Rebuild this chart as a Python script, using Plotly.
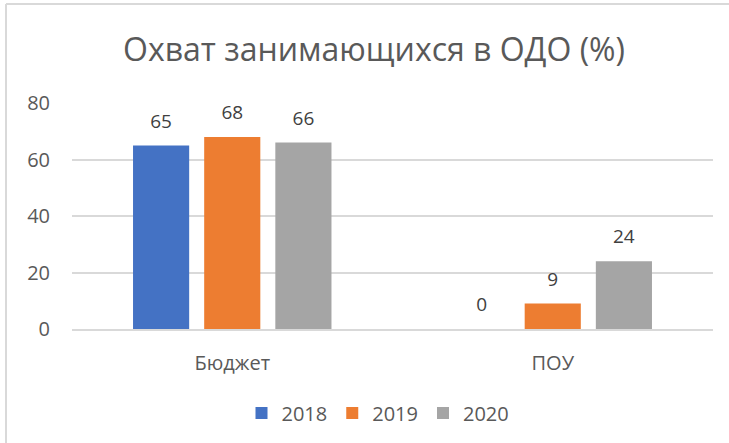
import plotly.graph_objects as go

categories = ["Бюджет", "ПОУ"]
years = ["2018", "2019", "2020"]
values_2018 = [65, 0]
values_2019 = [68, 9]
values_2020 = [66, 24]
colors = ["#4472C4", "#ED7D31", "#A5A5A5"]
y_ticks = [0, 20, 40, 60, 80]

W, H = 729, 443
L, R, T, B = 72, 16, 103, 114
FONT = "'Open Sans', Lato, sans-serif"
TXT = "#595959"

fig = go.Figure()
for name, vals, col in zip(years, [values_2018, values_2019, values_2020], colors):
    fig.add_trace(go.Bar(
        x=categories, y=vals, name=name, marker=dict(color=col, line=dict(width=0)),
        text=[str(v) for v in vals], textposition="outside", cliponaxis=False,
        texttemplate="<span style='font-size:19px'>%{text}</span><br> ",
        textfont=dict(size=9, color="#404040", family=FONT),
    ))

pw = W - L - R
ph = H - T - B
# frame lines (chart area border)
fig.add_shape(type="line", xref="paper", yref="paper",
              x0=(6 - L) / pw, x1=(6 - L) / pw, y0=(H - B - 4) / ph, y1=(H - B - H) / ph,
              line=dict(color="#d9d9d9", width=2))
fig.add_shape(type="line", xref="paper", yref="paper",
              x0=(6 - L) / pw, x1=(W - L) / pw, y0=(H - B - 4) / ph, y1=(H - B - 4) / ph,
              line=dict(color="#d9d9d9", width=2))

fig.update_layout(
    width=W, height=H,
    margin=dict(l=L, r=R, t=T, b=B),
    paper_bgcolor="white", plot_bgcolor="white",
    barmode="group", bargap=0.334, bargroupgap=0.211,
    font=dict(family=FONT, color=TXT),
    title=dict(text="Охват занимающихся в ОДО (%)", x=374 / W, xanchor="center",
               y=1 - 50 / H, yanchor="middle", yref="container",
               font=dict(size=32, color=TXT, family=FONT)),
    yaxis=dict(range=[0, 80], tickvals=y_ticks, showgrid=True, gridcolor="#d9d9d9", gridwidth=1.5,
               zeroline=False, showline=False, ticks="", ticklabelstandoff=21,
               tickfont=dict(size=20, color=TXT, family=FONT)),
    xaxis=dict(showline=True, linecolor="#d9d9d9", linewidth=1.5, ticks="", ticklabelstandoff=15,
               tickfont=dict(size=20, color=TXT, family=FONT)),
    legend=dict(orientation="h", x=378 / W, xanchor="center", xref="container",
                y=1 - 413 / H, yanchor="middle", yref="container",
                font=dict(size=20, color=TXT, family=FONT), itemwidth=30,
                traceorder="normal"),
    showlegend=True,
)

fig.write_html("out.html")
